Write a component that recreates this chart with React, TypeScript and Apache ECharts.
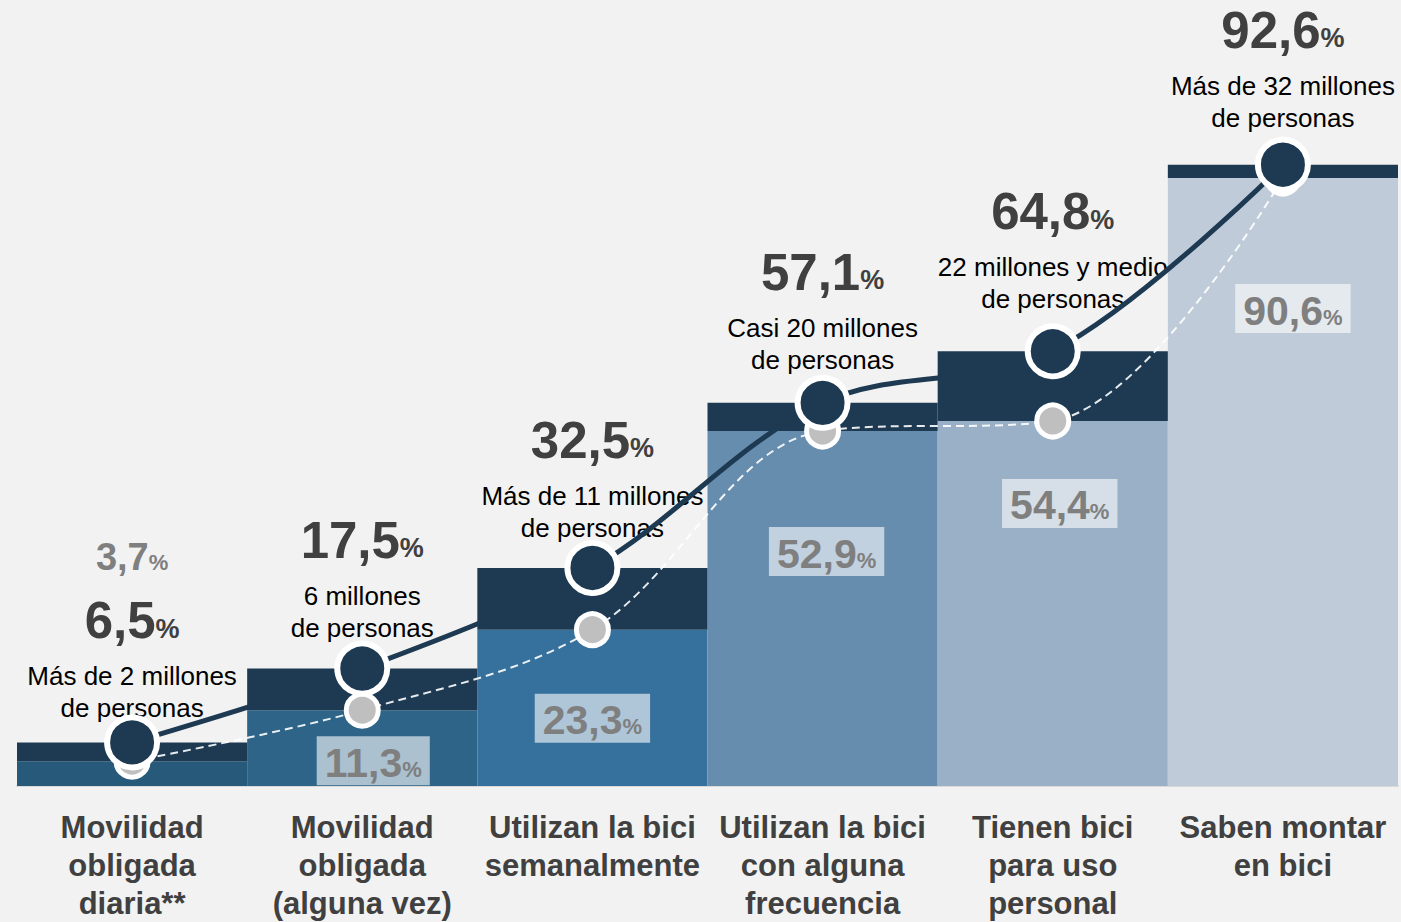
import React, { useEffect, useRef } from 'react';
import * as echarts from 'echarts';

const categories = [
  'Movilidad\nobligada\ndiaria**',
  'Movilidad\nobligada\n(alguna vez)',
  'Utilizan la bici\nsemanalmente',
  'Utilizan la bici\ncon alguna\nfrecuencia',
  'Tienen bici\npara uso\npersonal',
  'Saben montar\nen bici',
];
const totalValues = [6.5, 17.5, 32.5, 57.1, 64.8, 92.6];
const baseValues = [3.7, 11.3, 23.3, 52.9, 54.4, 90.6];
const descriptions = [
  'Más de 2 millones\nde personas',
  '6 millones\nde personas',
  'Más de 11 millones\nde personas',
  'Casi 20 millones\nde personas',
  '22 millones y medio\nde personas',
  'Más de 32 millones\nde personas',
];

// styling (not data)
const lightColors = ['#27597b', '#2d6487', '#36709c', '#668dae', '#9ab0c6', '#bfcbd8'];
const boxOffsets: (number[] | null)[] = [null, [11, 26], [0, 64], [4, 96], [7, 58], [10, 106]];
const labelDistances = [18, 25, 24, 27, 36, 31];
const DARK = '#1d3a52';

const fmt = (v: number) => v.toFixed(1).replace('.', ',');

export default function App() {
  const ref = useRef<HTMLDivElement>(null);
  useEffect(() => {
    if (!ref.current) return;
    const chart = echarts.init(ref.current, null, { renderer: 'svg' });
    const font = '"Liberation Sans", Arial, sans-serif';
    chart.setOption({
      animation: false,
      backgroundColor: '#f2f2f2',
      textStyle: { fontFamily: font },
      grid: { left: 17, right: 3, top: 115, bottom: 135 },
      xAxis: {
        type: 'category',
        data: categories,
        axisTick: { show: false },
        axisLine: { lineStyle: { color: '#d9d9d9', width: 2 } },
        axisLabel: {
          interval: 0,
          margin: 22,
          color: '#404040',
          fontWeight: 'bold',
          fontSize: 31,
          lineHeight: 38,
          fontFamily: font,
        },
      },
      yAxis: {
        type: 'value',
        min: 0,
        max: 100,
        show: false,
        splitLine: { show: false },
      },
      series: [
        {
          type: 'bar',
          stack: 'a',
          barCategoryGap: '0%',
          z: 2,
          silent: true,
          data: baseValues.map((v, i) => ({
            value: v,
            itemStyle: { color: lightColors[i] },
            label: i === 0 ? { show: false } : { show: true, offset: boxOffsets[i] },
          })),
          label: {
            show: true,
            position: 'insideTop',
            distance: 0,
            backgroundColor: 'rgba(255,255,255,0.6)',
            padding: [3, 8, 2, 8],
            formatter: (p: any) => `{n|${fmt(p.value)}}{p|%}`,
            rich: {
              n: { fontSize: 41, fontWeight: 'bold', color: '#7f7f7f', lineHeight: 44, fontFamily: font, verticalAlign: 'bottom' },
              p: { fontSize: 22, fontWeight: 'bold', color: '#7f7f7f', lineHeight: 44, fontFamily: font, verticalAlign: 'bottom', padding: [0, 0, 3, 0] },
            },
          },
        },
        {
          type: 'bar',
          stack: 'a',
          barCategoryGap: '0%',
          z: 2,
          silent: true,
          itemStyle: { color: DARK },
          data: totalValues.map((v, i) => ({
            value: +(v - baseValues[i]).toFixed(1),
            label: { distance: labelDistances[i] },
          })),
          label: {
            show: true,
            position: 'top',
            distance: 29,
            formatter: (p: any) => {
              const i = p.dataIndex;
              const head = i === 0 ? `{g|${fmt(baseValues[0])}}{gp|%}\n` : '';
              const desc = descriptions[i].split('\n').map((s) => `{d|${s}}`).join('\n');
              return `${head}{v|${fmt(totalValues[i])}}{p|%}\n${desc}`;
            },
            rich: {
              g: { fontSize: 38, fontWeight: 'bold', color: '#7f7f7f', lineHeight: 44, fontFamily: font, verticalAlign: 'bottom', padding: [0, 0, 32, 0] },
              gp: { fontSize: 22, fontWeight: 'bold', color: '#7f7f7f', lineHeight: 44, fontFamily: font, verticalAlign: 'bottom', padding: [0, 0, 35, 0] },
              v: { fontSize: 51, fontWeight: 'bold', color: '#404040', lineHeight: 52, fontFamily: font, verticalAlign: 'bottom', padding: [0, 0, 14, 0] },
              p: { fontSize: 27, fontWeight: 'bold', color: '#404040', lineHeight: 52, fontFamily: font, verticalAlign: 'bottom', padding: [0, 0, 18, 0] },
              d: { fontSize: 26, color: '#000000', lineHeight: 32, fontFamily: font },
            },
          },
        },
        {
          type: 'line',
          z: 3,
          silent: true,
          smooth: 0.35,
          data: baseValues,
          symbol: 'circle',
          symbolSize: 32,
          itemStyle: { color: '#bfbfbf', borderColor: '#ffffff', borderWidth: 5 },
          lineStyle: { color: 'rgba(255,255,255,0.9)', width: 2, type: [8, 5] },
        },
        {
          type: 'line',
          z: 4,
          silent: true,
          smooth: 0.35,
          data: totalValues,
          symbol: 'circle',
          symbolSize: 50,
          itemStyle: { color: DARK, borderColor: '#ffffff', borderWidth: 6 },
          lineStyle: { color: DARK, width: 5 },
        },
      ],
    });
    return () => chart.dispose();
  }, []);
  return (
    <div
      ref={ref}
      style={{ position: 'fixed', left: 0, top: 0, width: 1401, height: 922 }}
    />
  );
}
